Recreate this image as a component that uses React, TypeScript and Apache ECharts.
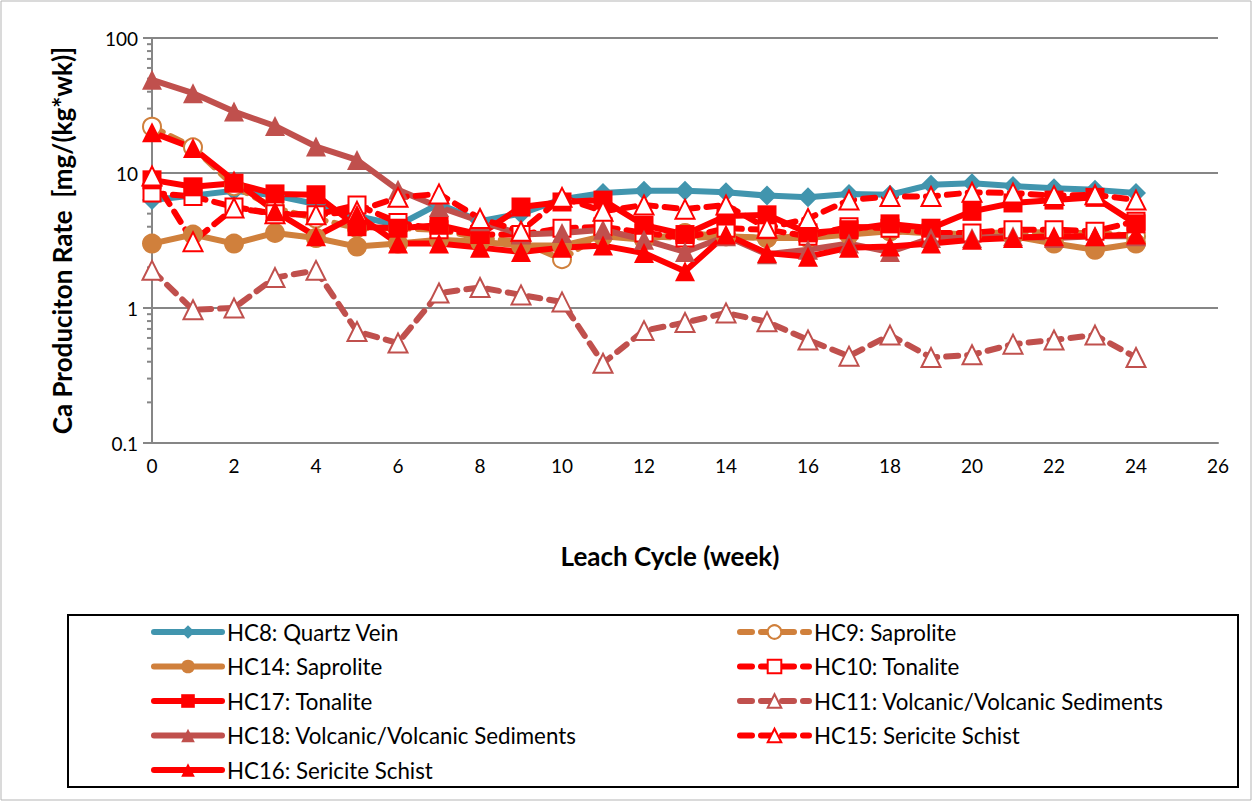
import React, { useEffect, useRef } from "react";
import * as echarts from "echarts";

const weeks = [0,1,2,3,4,5,6,7,8,9,10,11,12,13,14,15,16,17,18,19,20,21,22,23,24];
const yMinorTicks = [0.2,0.3,0.4,0.5,0.6,0.7,0.8,0.9,2,3,4,5,6,7,8,9,20,30,40,50,60,70,80,90];

const hc8 = [6.3,6.8,7.4,6.8,5.9,4.8,4.1,5.9,4.4,5.0,6.4,7.1,7.4,7.4,7.2,6.8,6.6,7.0,6.9,8.2,8.4,8.0,7.7,7.5,7.1];
const hc9 = [22,15.5,8,5.5,4.6,3.9,3.9,3.8,3.3,3.1,2.3,3.6,3.4,3.3,3.4,3.3,3.4,3.6,3.7,3.6,3.5,3.7,3.6,3.6,3.4];
const hc14 = [3.0,3.5,3.0,3.6,3.3,2.85,3.0,3.2,3.1,2.9,2.9,3.4,3.2,3.6,3.4,3.3,3.3,3.5,3.7,3.6,3.5,3.4,3.0,2.7,3.0];
const hc10 = [7.1,6.7,5.6,5.0,4.9,5.8,4.3,3.8,3.5,3.5,3.9,4.0,3.6,3.3,3.9,3.8,3.4,4.0,3.9,3.6,3.6,3.8,3.8,3.7,4.4];
const hc17 = [8.9,7.9,8.4,7.0,6.9,4.0,3.9,4.1,3.5,5.6,6.1,6.3,4.1,3.5,4.8,4.9,3.6,3.8,4.2,3.9,5.2,6.0,6.3,6.6,4.2];
const hc11 = [1.9,0.97,1.0,1.68,1.9,0.67,0.55,1.29,1.42,1.25,1.11,0.39,0.68,0.78,0.92,0.79,0.58,0.44,0.63,0.43,0.45,0.54,0.58,0.63,0.43];
const hc18 = [49,39,28.5,22.3,15.7,12.5,7.5,5.6,4.4,3.5,3.6,3.8,3.2,2.6,3.4,2.5,2.7,3.0,2.6,3.3,3.3,3.4,3.3,3.4,3.4];
const hc15 = [9.5,3.1,5.5,5.0,4.9,5.2,6.6,7.0,4.6,3.7,6.6,5.2,5.8,5.4,5.8,3.9,4.6,6.3,6.7,6.7,7.2,7.1,6.8,6.9,6.3];
const hc16 = [20,15.3,8.8,5.2,3.4,4.9,3.0,3.0,2.8,2.6,2.8,2.9,2.55,1.87,3.5,2.55,2.4,2.8,2.85,3.0,3.2,3.3,3.4,3.4,3.5];

const TEAL = "#4195AE";
const ORANGE = "#D0803C";
const RED = "#FF0000";
const DRED = "#C0504D";
const FONT = "Lato";

function pts(vals: number[]) {
  return weeks.map((w, i) => [w, vals[i]]);
}

function mk(name: string, vals: number[], color: string, symbol: string, size: number, open: boolean, dashed: boolean) {
  return {
    name,
    type: "line",
    data: pts(vals),
    symbol,
    symbolSize: size,
    showSymbol: true,
    lineStyle: {
      color,
      width: 6,
      type: dashed ? [12, 9] : "solid",
      cap: "round",
      join: "round",
    },
    itemStyle: open
      ? { color: "#ffffff", borderColor: color, borderWidth: 2 }
      : { color, borderColor: color, borderWidth: 0 },
    z: 3,
  };
}

export default function App() {
  const ref = useRef<HTMLDivElement>(null);
  useEffect(() => {
    document.body.style.margin = "0";
    const chart = echarts.init(ref.current!, null, { renderer: "svg" });
    const series: any[] = [
      mk("HC8: Quartz Vein", hc8, TEAL, "diamond", 20, false, false),
      mk("HC9: Saprolite", hc9, ORANGE, "circle", 18, true, true),
      mk("HC14: Saprolite", hc14, ORANGE, "circle", 20, false, false),
      mk("HC10: Tonalite", hc10, RED, "rect", 17, true, true),
      mk("HC17: Tonalite", hc17, RED, "rect", 19, false, false),
      mk("HC11: Volcanic/Volcanic Sediments", hc11, DRED, "triangle", 19, true, true),
      mk("HC18: Volcanic/Volcanic Sediments", hc18, DRED, "triangle", 20, false, false),
      mk("HC15: Sericite Schist", hc15, RED, "triangle", 19, true, true),
      mk("HC16: Sericite Schist", hc16, RED, "triangle", 20, false, false),
      {
        type: "custom",
        name: "minorTicks",
        data: yMinorTicks.map((v) => [0, v]),
        encode: { x: 0, y: 1 },
        clip: false,
        silent: true,
        z: 1,
        renderItem: (params: any, api: any) => {
          const p = api.coord([api.value(0), api.value(1)]);
          return {
            type: "line",
            shape: { x1: p[0] - 5, y1: p[1], x2: p[0], y2: p[1] },
            style: { stroke: "#868686", lineWidth: 2 },
          };
        },
      },
    ];
    const col1 = ["HC8: Quartz Vein", "HC14: Saprolite", "HC17: Tonalite", "HC18: Volcanic/Volcanic Sediments", "HC16: Sericite Schist"];
    const col2 = ["HC9: Saprolite", "HC10: Tonalite", "HC11: Volcanic/Volcanic Sediments", "HC15: Sericite Schist"];
    const legendBase = {
      orient: "vertical",
      top: 621,
      padding: 0,
      itemHeight: 17,
      itemGap: 12.5,
      selectedMode: false,
      lineStyle: { width: 6 },
      textStyle: { fontFamily: FONT, fontSize: 22.3, color: "#000", lineHeight: 22, height: 22 },
    };
    chart.setOption({
      animation: false,
      backgroundColor: "#ffffff",
      grid: { left: 152, top: 38, right: 35, height: 405 },
      xAxis: {
        type: "value",
        min: 0,
        max: 26,
        interval: 2,
        name: "Leach Cycle (week)",
        nameLocation: "middle",
        nameGap: 100,
        nameTextStyle: { fontFamily: FONT, fontSize: 26, fontWeight: "bold", color: "#000", padding: [0, 30, 0, 0] },
        axisLine: { show: true, lineStyle: { color: "#868686", width: 2 } },
        axisTick: { show: false },
        axisLabel: { fontFamily: FONT, fontSize: 19, color: "#000", margin: 13 },
        splitLine: { show: false },
      },
      yAxis: {
        type: "log",
        logBase: 10,
        min: 0.1,
        max: 100,
        name: "Ca Produciton Rate  [mg/(kg*wk)]",
        nameLocation: "middle",
        nameGap: 77,
        nameRotate: 90,
        nameTextStyle: { fontFamily: FONT, fontSize: 26, fontWeight: "bold", color: "#000" },
        axisLine: { show: true, lineStyle: { color: "#868686", width: 2 } },
        axisTick: { show: true, length: 9, lineStyle: { color: "#868686", width: 2 } },
        axisLabel: { fontFamily: FONT, fontSize: 19, color: "#000", margin: 14, formatter: (v: number) => String(v) },
        splitLine: { show: true, lineStyle: { color: "#868686", width: 2 } },
      },
      legend: [
        { ...legendBase, left: 151, itemWidth: 68, data: col1 },
        { ...legendBase, left: 737, itemWidth: 69, data: col2 },
      ],
      graphic: [
        { type: "rect", shape: { x: 1, y: 1, width: 1250, height: 799 }, style: { fill: "none", stroke: "#b5b5b5", lineWidth: 1 }, silent: true },
        { type: "rect", shape: { x: 68, y: 615, width: 1170, height: 172 }, style: { fill: "none", stroke: "#000", lineWidth: 2 }, silent: true },
      ],
      series,
    });
    return () => chart.dispose();
  }, []);
  return <div ref={ref} style={{ width: 1253, height: 802 }} />;
}
